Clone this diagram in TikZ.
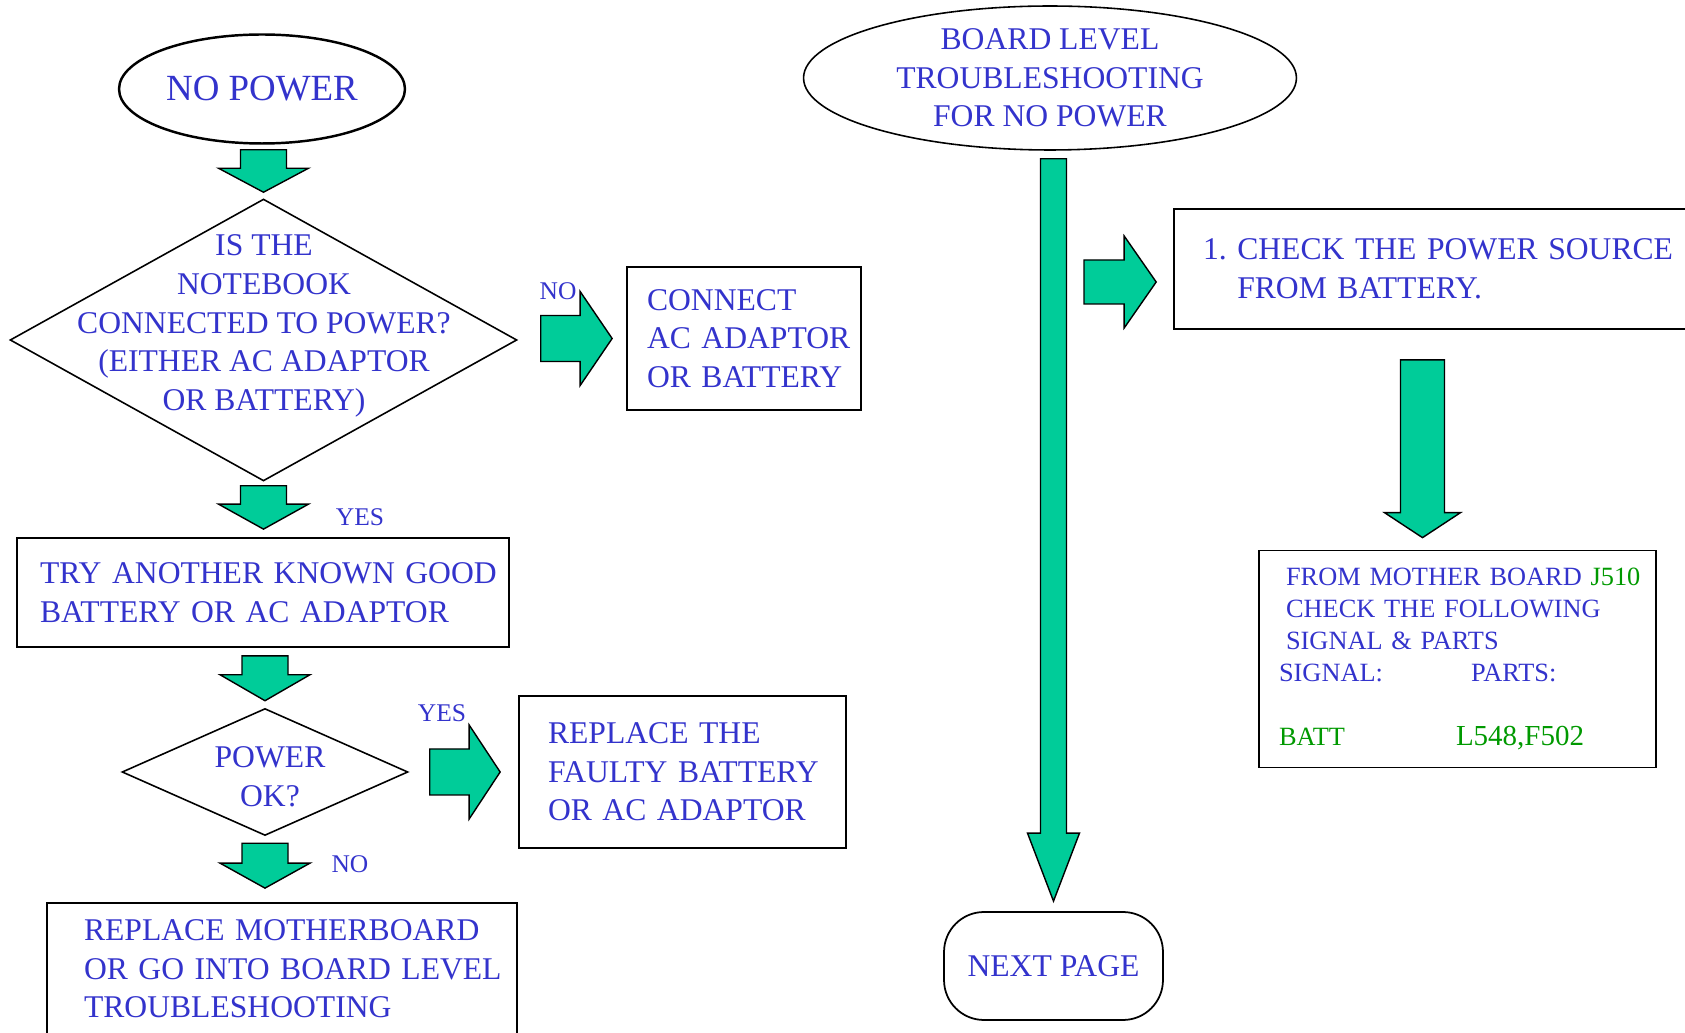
\documentclass[tikz,border=0pt]{standalone}
\usepackage{fontspec}
\setmainfont{Liberation Serif}
\usetikzlibrary{shapes.geometric, calc, positioning}
\frenchspacing

\definecolor{txtblue}{RGB}{51,51,204}
\definecolor{flowgreen}{RGB}{0,204,153}
\definecolor{partgreen}{RGB}{0,153,0}

% block arrow: from, to, shaft half width, head half width, head length (in px)
\newcommand{\blockarrow}[5]{%
    \coordinate (ba-s) at #1;
    \coordinate (ba-e) at #2;
    \coordinate (ba-m) at ($(ba-e)!#5*0.02cm!(ba-s)$);
    \draw[flow] ($(ba-s)!#3*0.02cm!90:(ba-e)$) -- ($(ba-m)!#3*0.02cm!90:(ba-e)$)
        -- ($(ba-m)!#4*0.02cm!90:(ba-e)$) -- (ba-e) -- ($(ba-m)!#4*0.02cm!-90:(ba-e)$)
        -- ($(ba-m)!#3*0.02cm!-90:(ba-e)$) -- ($(ba-s)!#3*0.02cm!-90:(ba-e)$) -- cycle;
}

\begin{document}
\begin{tikzpicture}[
        x=0.02cm, y=-0.02cm,
        box/.style={draw, line width=1pt, inner ysep=0pt, align=left, text=txtblue, font=\fontsize{18}{22}\selectfont\frenchspacing},
        term/.style={ellipse, draw, line width=0.9pt, inner sep=0pt, align=center, text=txtblue, font=\fontsize{18}{22}\selectfont},
        decision/.style={diamond, draw, line width=0.9pt, inner sep=0pt},
        qtext/.style={align=center, inner sep=0pt, text=txtblue, font=\fontsize{18}{22}\selectfont},
        lbl/.style={inner sep=0pt, text=txtblue, font=\fontsize{14.5}{17}\selectfont},
        flow/.style={fill=flowgreen, draw=black, line width=0.8pt, line join=miter}
    ]
        \useasboundingbox (0,0) rectangle (1685,1033);
        \clip (0,0) rectangle (1685,1033);

        % Left column
        \node[term, minimum width=5.72cm, minimum height=2.18cm, line width=1.4pt, font=\fontsize{21}{25}\selectfont] (start) at (262,89) {NO POWER};
        \node[decision, minimum width=10.14cm, minimum height=5.64cm] (q1) at (263.5,340) {};
        \node[qtext] (q1t) at (264,326) {IS THE\\NOTEBOOK\\CONNECTED TO POWER?\\(EITHER AC ADAPTOR\\OR BATTERY)};
        \node[box, text width=3.88cm, inner xsep=0.4cm, minimum height=2.86cm] (connect) at (744,338.5) {CONNECT\\\mbox{AC ADAPTOR}\\\mbox{OR BATTERY}};
        \node[box, text width=8.92cm, inner xsep=0.46cm, minimum height=2.18cm] (try) at (263,592.5) {\mbox{TRY ANOTHER KNOWN GOOD}\\BATTERY OR AC ADAPTOR};
        \node[decision, minimum width=5.72cm, minimum height=2.54cm] (q2) at (265,772) {};
        \node[qtext] (q2t) at (270,777) {POWER\\OK?};
        \node[box, text width=5.38cm, inner xsep=0.58cm, minimum height=3.04cm] (replbat) at (682.5,772) {REPLACE THE\\\mbox{FAULTY BATTERY}\\OR AC ADAPTOR};
        \node[box, text width=7.92cm, inner xsep=0.74cm, minimum height=2.64cm] (replmb) at (282,969) {REPLACE MOTHERBOARD\\\mbox{OR GO INTO BOARD LEVEL}\\TROUBLESHOOTING};

        % Right column
        \node[term, minimum width=9.86cm, minimum height=2.88cm, inner sep=-2pt] (board) at (1050,78) {BOARD LEVEL\\TROUBLESHOOTING\\FOR NO POWER};
        \node[box, text width=10.04cm, inner xsep=0.58cm, minimum height=2.4cm] (check) at (1454,269) {1. CHECK THE POWER SOURCE\\\hphantom{1.}~FROM BATTERY.};
        \node[box, font=\fontsize{15}{18.2}\selectfont, text width=7.14cm, inner xsep=0.4cm, minimum height=4.34cm] (sig) at (1457.5,659) {%
            \hspace*{0.14cm}\mbox{FROM MOTHER BOARD \textcolor{partgreen}{J510}}\\
            \hspace*{0.14cm}CHECK THE FOLLOWING\\
            \hspace*{0.14cm}SIGNAL \& PARTS\\
            \makebox[3.84cm][l]{SIGNAL:}PARTS:\\[18.2pt]
            \textcolor{partgreen}{\makebox[3.54cm][l]{BATT}\fontsize{16.5}{18.2}\selectfont L548,F502}};
        \node[box, align=center, rounded corners=0.8cm, minimum width=4.38cm, minimum height=2.16cm] (next) at (1053.5,966) {NEXT PAGE};
        \coordinate (branch) at (1084,282);

        % Flow arrows
        \blockarrow{($(q1.north |- start.south)+(0,5)$)}{($(q1.north)+(0,-6)$)}{23}{45}{24}
        \blockarrow{($(q1.east |- connect.west)+(23,0)$)}{($(connect.west)+(-14,0)$)}{23}{47}{32}
        \blockarrow{($(q1.south)+(0,4)$)}{($(q1.south |- try.north)+(0,-8)$)}{23}{45}{25}
        \blockarrow{($(q2.north |- try.south)+(0,8)$)}{($(q2.north)+(0,-7)$)}{23}{45}{26}
        \blockarrow{($(q2.east |- replbat.west)+(21,0)$)}{($(replbat.west)+(-18,0)$)}{23}{47}{31}
        \blockarrow{($(q2.south)+(0,7)$)}{($(q2.south |- replmb.north)+(0,-14)$)}{23}{45}{25}
        \blockarrow{($(next.north |- board.south)+(0,8)$)}{($(next.north)+(0,-10)$)}{13}{26}{68}
        \blockarrow{(branch)}{($(check.west)+(-17,13)$)}{22}{46}{32}
        \coordinate (d5) at ($(sig.north)+(-35,-12)$);
        \blockarrow{($(d5 |- check.south)+(0,30)$)}{(d5)}{22}{38}{25}

        % Branch labels
        \node[lbl] (no1) at (558,291) {NO};
        \node[lbl] (yes1) at (360,517) {YES};
        \node[lbl] (yes2) at (442,713) {YES};
        \node[lbl] (no2) at (350,864) {NO};
    \end{tikzpicture}
\end{document}
